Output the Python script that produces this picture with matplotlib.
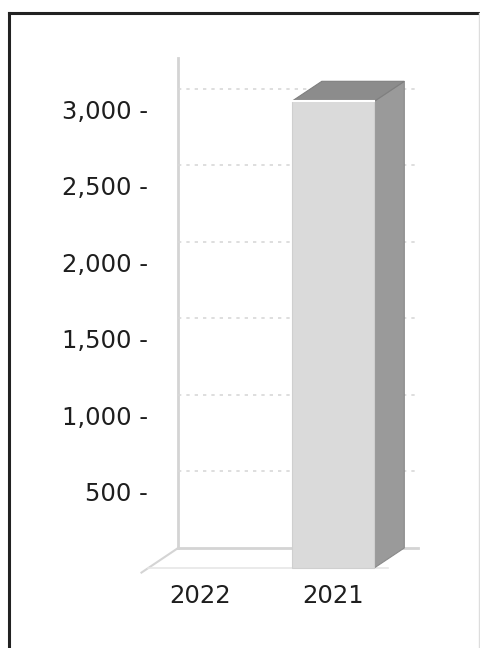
import matplotlib.pyplot as plt
from matplotlib.patches import Polygon
from matplotlib.lines import Line2D
from matplotlib import transforms

categories = ["2022", "2021"]
values = [0, 3050]
yticks = [500, 1000, 1500, 2000, 2500, 3000]

# 3d look: depth offset in data units, axis extents
depth_x = 0.226
depth_y = 131
bar_w = 0.62
x_lo, x_hi = -0.39, 1.41
y_top = 3200
px_per_unit = 0.153

fig = plt.figure(figsize=(4.8, 6.48), dpi=100)
W, H = 480, 648
# axes box in pixels (left, top, right, bottom)
pl, pt, pr, pb = 100, 40, 470, 640
ax = fig.add_axes([pl / W, 1 - pb / H, (pr - pl) / W, (pb - pt) / H])
ax.set_xlim((pl - 200) / 133, (pr - 200) / 133)
ax.set_ylim((568 - pb) / px_per_unit, (568 - pt) / px_per_unit)
ax.axis("off")

wall = "#d4d4d4"
# back wall left edge and floor
ax.plot([x_lo + depth_x, x_lo + depth_x], [depth_y, y_top + depth_y], color=wall, lw=2)
ax.plot([x_lo + depth_x, x_hi + depth_x], [depth_y, depth_y], color=wall, lw=2)
ax.plot([x_lo - 0.05, x_lo + depth_x], [-30, depth_y], color=wall, lw=1.5)
ax.plot([x_lo, x_hi], [0, 0], color="#e6e6e6", lw=1.2)

# dotted gridlines on back wall
for v in yticks:
    ax.plot([x_lo + depth_x, x_hi + depth_x], [v + depth_y, v + depth_y],
            color="#d8d8d8", lw=1.2, ls=(0, (2, 3)))

# bars
for i, v in enumerate(values):
    if v <= 0:
        continue
    x0, x1 = i - bar_w / 2, i + bar_w / 2
    front = Polygon([(x0, 0), (x1, 0), (x1, v), (x0, v)], closed=True,
                    facecolor="#dadada", edgecolor="#cfcfcf", lw=0.8, zorder=3)
    side = Polygon([(x1, 0), (x1 + depth_x, depth_y), (x1 + depth_x, v + depth_y), (x1, v)],
                   closed=True, facecolor="#9a9a9a", edgecolor="#8a8a8a", lw=0.8, zorder=3)
    top = Polygon([(x0, v), (x0 + depth_x, v + depth_y), (x1 + depth_x, v + depth_y), (x1, v)],
                  closed=True, facecolor="#8c8c8c", edgecolor="#7f7f7f", lw=0.8, zorder=3)
    ax.add_patch(side)
    ax.add_patch(top)
    ax.add_patch(front)
    ax.plot([x0, x1], [v, v], color="white", lw=1.5, zorder=4)

# tick labels
lab_tr = transforms.offset_copy(ax.transData, fig=fig, x=0, y=-3, units="dots")
for v in yticks:
    ax.text(x_lo, v, f"{v:,} -", ha="right", va="center", fontsize=17.5,
            color="#1e1e1e", transform=lab_tr)

cat_tr = transforms.offset_copy(ax.transData, fig=fig, x=0, y=-28, units="dots")
for i, c in enumerate(categories):
    ax.text(i, 0, c, ha="center", va="center", fontsize=17.5,
            color="#1e1e1e", transform=cat_tr)

# frame of the scanned page
fig.add_artist(Line2D([9 / W, 9 / W], [0, 1 - 13 / H], color="#222222", lw=2.2))
fig.add_artist(Line2D([9 / W, 1], [1 - 13 / H, 1 - 13 / H], color="#222222", lw=2.2))
fig.add_artist(Line2D([479 / W, 479 / W], [0, 1 - 13 / H], color="#dddddd", lw=1))

fig.savefig("out.png", dpi=100)
